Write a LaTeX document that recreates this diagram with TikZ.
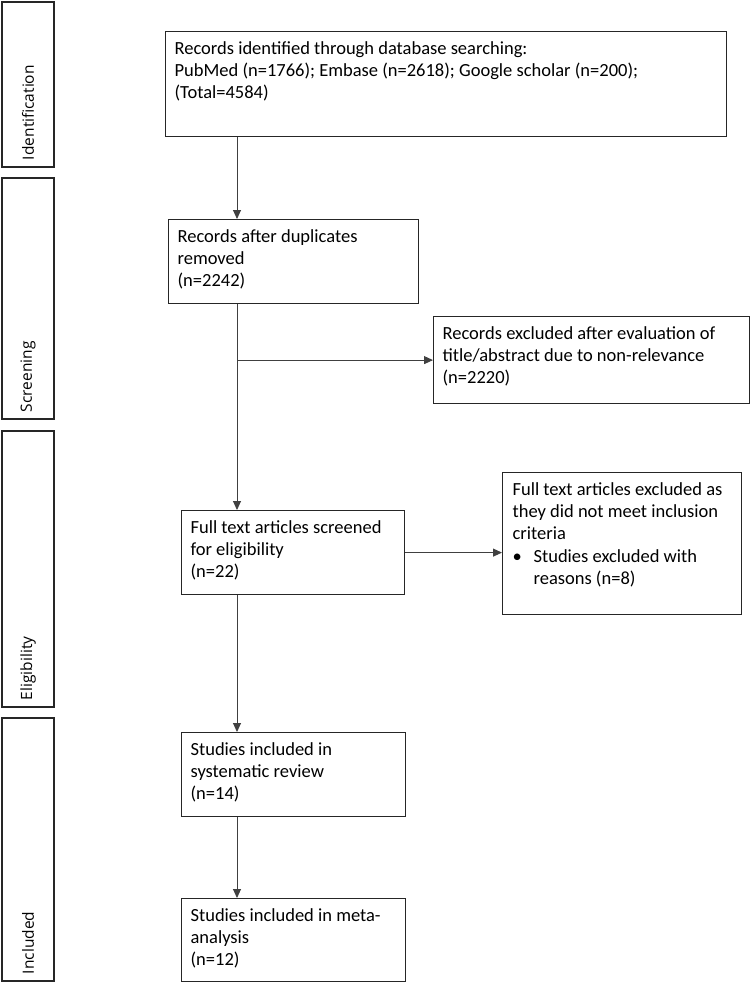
\documentclass[tikz,border=0pt]{standalone}
\usepackage{fontspec}
\setmainfont{Carlito}
\newfontfamily\phasefont{Open Sans}
\usetikzlibrary{arrows.meta,calc}
\newcommand{\bx}[3]{\parbox[c][#2][t]{#1}{\setlength{\baselineskip}{22.3pt}\rule{0pt}{22.5pt}#3}}
\begin{document}
\begin{tikzpicture}[x=1pt,y=-1pt,
  box/.style={draw=black!85, line width=1.2pt, anchor=north west, inner xsep=9pt, inner ysep=0pt,
    font=\fontsize{18.5pt}{22.3pt}\selectfont, align=left},
  phase/.style={draw=black!85, line width=1.2pt, rotate=90, minimum height=52pt, inner xsep=7pt,
    inner ysep=0pt, align=left, font=\phasefont\fontsize{15.5pt}{18pt}\selectfont},
  arr/.style={draw=black!75, line width=0.9pt, -{Triangle[length=9pt,width=8pt]}},
  ln/.style={draw=black!75, line width=0.9pt}]
\useasboundingbox (0,0) rectangle (750,983);
\fill[white] (0,0) rectangle (750,983);
% phase boxes
\node[phase, minimum width=165pt, text width=151pt] (ph1) at (28,84.5) {Identification};
\node[phase, minimum width=241pt, text width=227pt] (ph2) at (28,298.5) {Screening};
\node[phase, minimum width=276pt, text width=262pt] (ph3) at (28,569) {Eligibility};
\node[phase, minimum width=263pt, text width=249pt] (ph4) at (28,849.5) {Included};
% main boxes
\node[box, minimum width=561pt, minimum height=105pt] (b1) at (165,31)
  {\bx{543pt}{105pt}{\mbox{Records identified through database searching:}\\
   \mbox{PubMed (n=1766); Embase (n=2618); Google scholar (n=200);}\\
   \mbox{(Total=4584)}}};
\node[box, minimum width=250pt, minimum height=84pt] (b2) at (168,219)
  {\bx{232pt}{84pt}{\mbox{Records after duplicates}\\ \mbox{removed}\\ \mbox{(n=2242)}}};
\node[box, minimum width=316pt, minimum height=87pt] (r1) at (433,316)
  {\bx{298pt}{87pt}{\mbox{Records excluded after evaluation of}\\
   \mbox{title/abstract due to non-relevance}\\ \mbox{(n=2220)}}};
\node[box, minimum width=223pt, minimum height=84pt] (b3) at (181,510)
  {\bx{205pt}{84pt}{\mbox{Full text articles screened}\\ \mbox{for eligibility}\\ \mbox{(n=22)}}};
\node[box, minimum width=239pt, minimum height=142pt, inner xsep=10pt] (r2) at (502,472)
  {\bx{219pt}{142pt}{\mbox{Full text articles excluded as}\\
   \mbox{they did not meet inclusion}\\ \mbox{criteria}\\
   \mbox{\makebox[21pt][l]{\textbullet}Studies excluded with}\\
   \mbox{\hspace*{21pt}reasons (n=8)}}};
\node[box, minimum width=224pt, minimum height=84pt] (b4) at (181,732)
  {\bx{206pt}{84pt}{\mbox{Studies included in}\\ \mbox{systematic review}\\ \mbox{(n=14)}}};
\node[box, minimum width=224pt, minimum height=83pt] (b5) at (181,898)
  {\bx{206pt}{83pt}{\mbox{Studies included in meta-}\\ \mbox{analysis}\\ \mbox{(n=12)}}};
% connectors
\coordinate (spine) at (237,0);
\coordinate (j1) at (spine |- r1.west);
\draw[arr] (b1.south -| spine) -- (b2.north -| spine);
\draw[arr] (b2.south -| spine) -- (b3.north -| spine);
\draw[arr] (j1) -- (r1.west);
\draw[arr] (b3.east) -- (r2.west |- b3.east);
\draw[arr] (b3.south -| spine) -- (b4.north -| spine);
\draw[arr] (b4.south -| spine) -- (b5.north -| spine);
\end{tikzpicture}
\end{document}
